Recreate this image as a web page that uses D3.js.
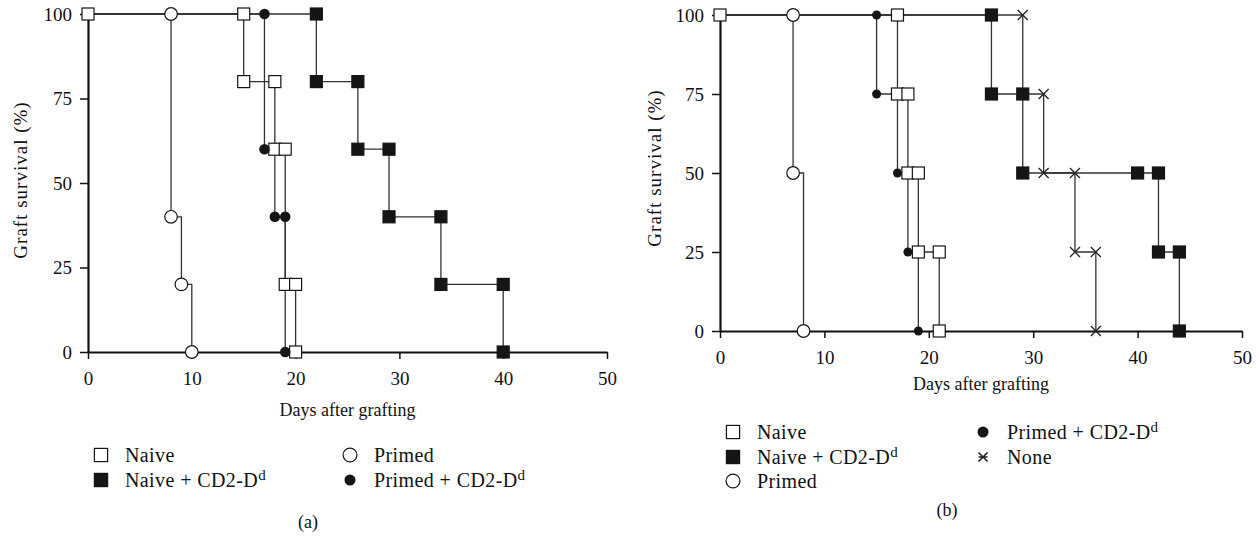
<!DOCTYPE html>
<html>
  <head>
    <title>Graft survival</title>
    <script src="https://d3js.org/d3.v7.min.js"></script>
    <style>
      body { margin: 0; background: white; }
      svg text { font-family: "Liberation Serif", "Times New Roman", serif; fill: #111; }
    </style>
  </head>
  <body>
    <script>
      // shared ticks
      const dayTicks = [0, 10, 20, 30, 40, 50];
      const survTicks = [0, 25, 50, 75, 100];

      // panel (a): step events (day, survival after) and plotted markers
      const aNaiveEvDays = [15, 18, 19, 20];
      const aNaiveEvSurv = [80, 60, 20, 0];
      const aNaiveMkDays = [0, 15, 15, 18, 18, 19, 19, 20, 20];
      const aNaiveMkSurv = [100, 100, 80, 80, 60, 60, 20, 20, 0];

      const aNaiveCD2EvDays = [22, 26, 29, 34, 40];
      const aNaiveCD2EvSurv = [80, 60, 40, 20, 0];
      const aNaiveCD2MkDays = [22, 22, 26, 26, 29, 29, 34, 34, 40, 40];
      const aNaiveCD2MkSurv = [100, 80, 80, 60, 60, 40, 40, 20, 20, 0];

      const aPrimedEvDays = [8, 9, 10];
      const aPrimedEvSurv = [40, 20, 0];
      const aPrimedMkDays = [8, 8, 9, 10];
      const aPrimedMkSurv = [100, 40, 20, 0];

      const aPrimedCD2EvDays = [17, 18, 19];
      const aPrimedCD2EvSurv = [60, 40, 0];
      const aPrimedCD2MkDays = [17, 17, 18, 19, 19];
      const aPrimedCD2MkSurv = [100, 60, 40, 40, 0];

      // panel (b)
      const bNaiveEvDays = [17, 18, 19, 21];
      const bNaiveEvSurv = [75, 50, 25, 0];
      const bNaiveMkDays = [0, 17, 17, 18, 18, 19, 19, 21, 21];
      const bNaiveMkSurv = [100, 100, 75, 75, 50, 50, 25, 25, 0];

      const bNaiveCD2EvDays = [26, 29, 42, 44];
      const bNaiveCD2EvSurv = [75, 50, 25, 0];
      const bNaiveCD2MkDays = [26, 26, 29, 29, 40, 42, 42, 44, 44];
      const bNaiveCD2MkSurv = [100, 75, 75, 50, 50, 50, 25, 25, 0];

      const bPrimedEvDays = [7, 8];
      const bPrimedEvSurv = [50, 0];
      const bPrimedMkDays = [7, 7, 8];
      const bPrimedMkSurv = [100, 50, 0];

      const bPrimedCD2EvDays = [15, 17, 18, 19];
      const bPrimedCD2EvSurv = [75, 50, 25, 0];
      const bPrimedCD2MkDays = [15, 15, 17, 18, 19];
      const bPrimedCD2MkSurv = [100, 75, 50, 25, 0];

      const bNoneEvDays = [29, 31, 34, 36];
      const bNoneEvSurv = [75, 50, 25, 0];
      const bNoneMkDays = [29, 31, 31, 34, 34, 36, 36];
      const bNoneMkSurv = [100, 75, 50, 50, 25, 25, 0];

      const zip = (a, b) => a.map((v, i) => [v, b[i]]);

      const svg = d3.select('body')
                    .append('svg')
                    .attr('width', 1259)
                    .attr('height', 537);

      function drawMarker(g, type, x, y, scale) {
        const s = scale || 1;
        if (type === 'openSquare' || type === 'fillSquare') {
          const h = 6 * s;
          g.append('rect')
           .attr('x', x - h).attr('y', y - h)
           .attr('width', 2 * h).attr('height', 2 * h)
           .attr('fill', type === 'openSquare' ? 'white' : '#151515')
           .attr('stroke', '#151515').attr('stroke-width', 1.2);
        } else if (type === 'openCircle') {
          g.append('circle').attr('cx', x).attr('cy', y).attr('r', 6.3 * s)
           .attr('fill', 'white').attr('stroke', '#151515').attr('stroke-width', 1.2);
        } else if (type === 'fillCircle') {
          g.append('circle').attr('cx', x).attr('cy', y).attr('r', 5 * s)
           .attr('fill', '#151515');
        } else if (type === 'cross') {
          const h = 5 * s;
          g.append('path')
           .attr('d', `M${x - h},${y - h}L${x + h},${y + h}M${x - h},${y + h}L${x + h},${y - h}`)
           .attr('stroke', '#222').attr('stroke-width', 1.3).attr('fill', 'none');
        } else if (type === 'crossBar') {
          const h = 5 * s;
          g.append('path')
           .attr('d', `M${x - h},${y - h}L${x + h},${y + h}M${x - h},${y + h}L${x + h},${y - h}M${x - h},${y}L${x + h},${y}`)
           .attr('stroke', '#222').attr('stroke-width', 1.6).attr('fill', 'none');
        }
      }

      function drawPanel(p) {
        const x = d3.scaleLinear().domain([0, 50]).range([p.x0, p.x1]);
        const y = d3.scaleLinear().domain([0, 100]).range([p.y0, p.y1]);
        const g = svg.append('g');

        const line = d3.line()
                       .x(d => x(d[0]))
                       .y(d => y(d[1]))
                       .curve(d3.curveStepAfter);

        p.series.forEach(s => {
          const pts = [[0, 100]].concat(zip(s.evDays, s.evSurv));
          g.append('path')
           .attr('d', line(pts))
           .attr('fill', 'none')
           .attr('stroke', '#333')
           .attr('stroke-width', 1.3);
        });

        const xAxis = g.append('g')
                       .attr('transform', `translate(0,${p.y0})`)
                       .call(d3.axisBottom(x).tickValues(dayTicks).tickSize(7).tickPadding(13).tickSizeOuter(0));
        const yAxis = g.append('g')
                       .attr('transform', `translate(${p.x0},0)`)
                       .call(d3.axisLeft(y).tickValues(survTicks).tickSize(8).tickPadding(8).tickSizeOuter(0));
        [xAxis, yAxis].forEach(a => {
          a.select('.domain').attr('stroke', '#111').attr('stroke-width', 2.2);
          a.selectAll('.tick line').attr('stroke', '#111').attr('stroke-width', 1.5);
          a.selectAll('.tick text')
           .style('font-family', '"Liberation Serif", serif')
           .style('font-size', '19px')
           .attr('fill', '#111');
        });

        p.series.forEach(s => {
          zip(s.mkDays, s.mkSurv).forEach(d => drawMarker(g, s.marker, x(d[0]), y(d[1]), s.size));
        });

        g.append('text')
         .attr('x', (p.x0 + p.x1) / 2)
         .attr('y', p.xTitleY)
         .attr('text-anchor', 'middle')
         .attr('dy', '0.35em')
         .style('font-size', '18px')
         .text('Days after grafting');

        g.append('text')
         .attr('transform', `translate(${p.yTitleX},${p.yTitleY}) rotate(-90)`)
         .attr('text-anchor', 'middle')
         .attr('dy', '0.35em')
         .style('font-size', '19px')
         .style('letter-spacing', '1px')
         .text('Graft survival (%)');

        p.legend.forEach(l => {
          drawMarker(g, l.marker === 'cross' ? 'crossBar' : l.marker, l.x, l.y, l.marker === 'cross' ? 0.9 : 1.1);
          const t = g.append('text')
                     .attr('x', l.x + 24)
                     .attr('y', l.y)
                     .attr('dy', '0.35em')
                     .style('font-size', '20px')
                     .style('letter-spacing', '0.4px');
          t.append('tspan').text(l.label);
          if (l.sup) {
            t.append('tspan').attr('dy', '-0.45em').style('font-size', '15px').text(l.sup);
          }
        });

        g.append('text')
         .attr('x', p.capX)
         .attr('y', p.capY)
         .attr('text-anchor', 'middle')
         .attr('dy', '0.35em')
         .style('font-size', '18px')
         .text(p.caption);
      }

      drawPanel({
        x0: 88, x1: 607, y0: 352, y1: 14,
        xTitleY: 410, yTitleX: 20, yTitleY: 180,
        capX: 308, capY: 522, caption: '(a)',
        series: [
          { evDays: aNaiveEvDays, evSurv: aNaiveEvSurv, mkDays: aNaiveMkDays, mkSurv: aNaiveMkSurv, marker: 'openSquare' },
          { evDays: aNaiveCD2EvDays, evSurv: aNaiveCD2EvSurv, mkDays: aNaiveCD2MkDays, mkSurv: aNaiveCD2MkSurv, marker: 'fillSquare' },
          { evDays: aPrimedEvDays, evSurv: aPrimedEvSurv, mkDays: aPrimedMkDays, mkSurv: aPrimedMkSurv, marker: 'openCircle' },
          { evDays: aPrimedCD2EvDays, evSurv: aPrimedCD2EvSurv, mkDays: aPrimedCD2MkDays, mkSurv: aPrimedCD2MkSurv, marker: 'fillCircle', size: 1.05 }
        ],
        legend: [
          { marker: 'openSquare', label: 'Naive', x: 101, y: 455 },
          { marker: 'fillSquare', label: 'Naive + CD2-D', sup: 'd', x: 101, y: 480 },
          { marker: 'openCircle', label: 'Primed', x: 350, y: 455 },
          { marker: 'fillCircle', label: 'Primed + CD2-D', sup: 'd', x: 350, y: 480 }
        ]
      });

      drawPanel({
        x0: 720, x1: 1242, y0: 331, y1: 15,
        xTitleY: 384, yTitleX: 654, yTitleY: 168,
        capX: 947, capY: 510, caption: '(b)',
        series: [
          { evDays: bNaiveEvDays, evSurv: bNaiveEvSurv, mkDays: bNaiveMkDays, mkSurv: bNaiveMkSurv, marker: 'openSquare' },
          { evDays: bNaiveCD2EvDays, evSurv: bNaiveCD2EvSurv, mkDays: bNaiveCD2MkDays, mkSurv: bNaiveCD2MkSurv, marker: 'fillSquare' },
          { evDays: bPrimedEvDays, evSurv: bPrimedEvSurv, mkDays: bPrimedMkDays, mkSurv: bPrimedMkSurv, marker: 'openCircle' },
          { evDays: bPrimedCD2EvDays, evSurv: bPrimedCD2EvSurv, mkDays: bPrimedCD2MkDays, mkSurv: bPrimedCD2MkSurv, marker: 'fillCircle', size: 0.9 },
          { evDays: bNoneEvDays, evSurv: bNoneEvSurv, mkDays: bNoneMkDays, mkSurv: bNoneMkSurv, marker: 'cross' }
        ],
        legend: [
          { marker: 'openSquare', label: 'Naive', x: 733, y: 432 },
          { marker: 'fillSquare', label: 'Naive + CD2-D', sup: 'd', x: 733, y: 457 },
          { marker: 'openCircle', label: 'Primed', x: 733, y: 481 },
          { marker: 'fillCircle', label: 'Primed + CD2-D', sup: 'd', x: 983, y: 432 },
          { marker: 'cross', label: 'None', x: 983, y: 457 }
        ]
      });
    </script>
  </body>
</html>
